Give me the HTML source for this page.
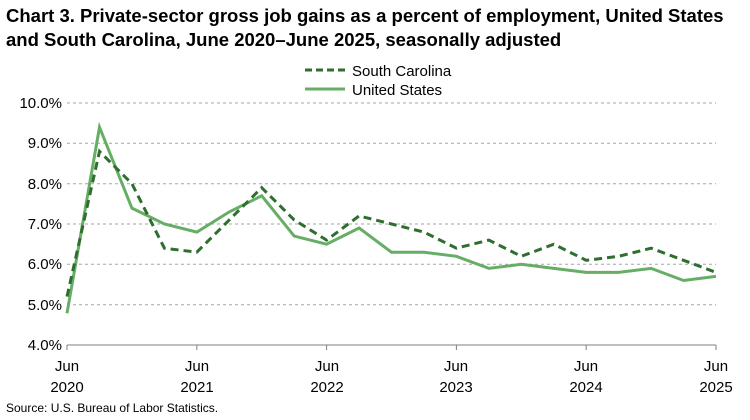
<!DOCTYPE html>
<html><head><meta charset="utf-8"><style>
body{margin:0;background:#fff;}
svg{display:block;font-family:"Liberation Sans",Arial,sans-serif;}
</style></head><body>
<svg width="750" height="420" viewBox="0 0 750 420" xmlns="http://www.w3.org/2000/svg">
<text x="6" y="22" font-size="18.5" font-weight="bold" fill="#000">Chart 3. Private-sector gross job gains as a percent of employment, United States</text>
<text x="6" y="46" font-size="18.5" font-weight="bold" fill="#000">and South Carolina, June 2020–June 2025, seasonally adjusted</text>
<line x1="305" y1="70" x2="345" y2="70" stroke="#2f6e2f" stroke-width="3" stroke-dasharray="7,4"/>
<text x="352" y="76" font-size="15">South Carolina</text>
<line x1="305" y1="89" x2="345" y2="89" stroke="#66ad66" stroke-width="3"/>
<text x="352" y="95" font-size="15">United States</text>
<g stroke="#a6a6a6" stroke-width="1" stroke-dasharray="3,3">
<line x1="67" y1="103" x2="716" y2="103"/>
<line x1="67" y1="143.3" x2="716" y2="143.3"/>
<line x1="67" y1="183.7" x2="716" y2="183.7"/>
<line x1="67" y1="224" x2="716" y2="224"/>
<line x1="67" y1="264.3" x2="716" y2="264.3"/>
<line x1="67" y1="304.7" x2="716" y2="304.7"/>
</g>
<line x1="67" y1="345" x2="716" y2="345" stroke="#7f7f7f"/>
<g stroke="#7f7f7f"><line x1="67" y1="345" x2="67" y2="350"/><line x1="196.8" y1="345" x2="196.8" y2="350"/><line x1="326.6" y1="345" x2="326.6" y2="350"/><line x1="456.4" y1="345" x2="456.4" y2="350"/><line x1="586.2" y1="345" x2="586.2" y2="350"/><line x1="716" y1="345" x2="716" y2="350"/></g>
<g font-size="15" text-anchor="end">
<text x="62" y="108">10.0%</text><text x="62" y="148">9.0%</text><text x="62" y="189">8.0%</text><text x="62" y="229">7.0%</text><text x="62" y="269">6.0%</text><text x="62" y="310">5.0%</text><text x="62" y="350">4.0%</text>
</g>
<g font-size="15" text-anchor="middle">
<text x="67" y="371">Jun</text><text x="67" y="392">2020</text>
<text x="197" y="371">Jun</text><text x="197" y="392">2021</text>
<text x="327" y="371">Jun</text><text x="327" y="392">2022</text>
<text x="456" y="371">Jun</text><text x="456" y="392">2023</text>
<text x="586" y="371">Jun</text><text x="586" y="392">2024</text>
<text x="716" y="371">Jun</text><text x="716" y="392">2025</text>
</g>
<text x="6" y="412" font-size="12">Source: U.S. Bureau of Labor Statistics.</text>
<polyline fill="none" stroke="#66ad66" stroke-width="3" points="67,313.3 99.5,127.2 131.9,208.1 164.4,224 196.8,232.1 229.3,211.9 261.7,195.8 294.2,236.1 326.6,244.2 359.1,228 391.5,252.2 424,252.2 456.4,256.3 488.9,268.4 521.3,264.3 553.8,268.4 586.2,272.4 618.7,272.4 651.1,268.4 683.6,280.5 716,276.4"/>
<polyline fill="none" stroke="#2f6e2f" stroke-width="3" stroke-dasharray="8,5" points="67,296.6 99.5,151.4 131.9,183.7 164.4,248.2 196.8,252.2 229.3,219.9 261.7,187.7 294.2,219.9 326.6,240.1 359.1,215.9 391.5,224 424,232.1 456.4,248.2 488.9,240.1 521.3,256.3 553.8,244.2 586.2,260.3 618.7,256.3 651.1,248.2 683.6,260.3 716,272.4"/>
</svg>
</body></html>
